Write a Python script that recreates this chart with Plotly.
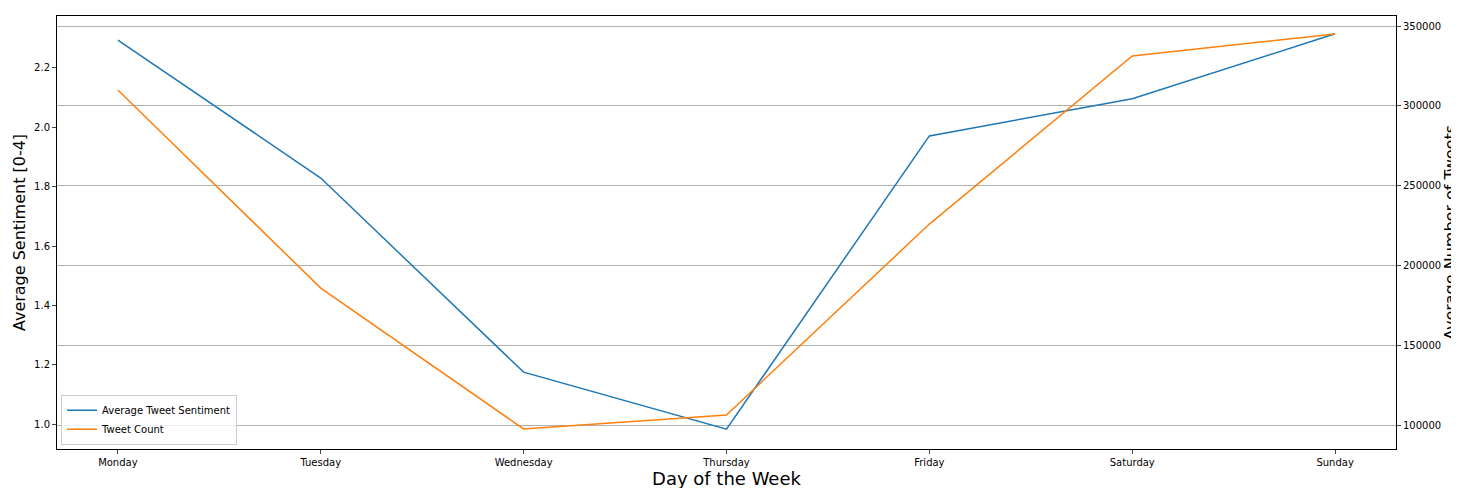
import plotly.graph_objects as go

days = ['Monday', 'Tuesday', 'Wednesday', 'Thursday', 'Friday', 'Saturday', 'Sunday']
sentiment = [2.294, 1.829, 1.175, 0.983, 1.971, 2.096, 2.315]
tweet_count = [309900, 185800, 97500, 106300, 225900, 331200, 345000]

fig = go.Figure()
fig.add_trace(go.Scatter(x=days, y=sentiment, mode='lines', name='Average Tweet Sentiment',
                         line=dict(color='#1f77b4', width=1.5)))
fig.add_trace(go.Scatter(x=days, y=tweet_count, mode='lines', name='Tweet Count', yaxis='y2',
                         line=dict(color='#ff7f0e', width=1.5)))

fig.update_layout(
    width=1459, height=488,
    plot_bgcolor='white', paper_bgcolor='white',
    margin=dict(l=49, r=71, t=8, b=47, autoexpand=False),
    font=dict(family='DejaVu Sans', size=10, color='black'),
    xaxis=dict(title=dict(text='Day of the Week', font=dict(size=18), standoff=4),
               range=[-0.3, 6.3], showgrid=False, showline=True, linecolor='black', mirror=True,
               ticks='outside', ticklen=4, zeroline=False, automargin=False),
    yaxis=dict(title=dict(text='Average Sentiment [0-4]', font=dict(size=16), standoff=4),
               range=[0.916, 2.375], dtick=0.2, tickformat='.1f', showgrid=False,
               showline=True, linecolor='black', ticks='outside', ticklen=4, zeroline=False,
               automargin=False),
    yaxis2=dict(title=dict(text='Average Number of Tweets', font=dict(size=16), standoff=4),
                overlaying='y', side='right', range=[84960, 356270], dtick=50000, tickformat='d',
                showgrid=True, gridcolor='#b0b0b0', showline=True, linecolor='black',
                ticks='outside', ticklen=4, zeroline=False, automargin=False),
    legend=dict(x=0.003, y=0.01, xanchor='left', yanchor='bottom', bordercolor='#cccccc',
                borderwidth=1, bgcolor='rgba(255,255,255,0.8)', font=dict(size=10),
                tracegroupgap=0, itemwidth=30),
)

fig.write_html('out.html')
